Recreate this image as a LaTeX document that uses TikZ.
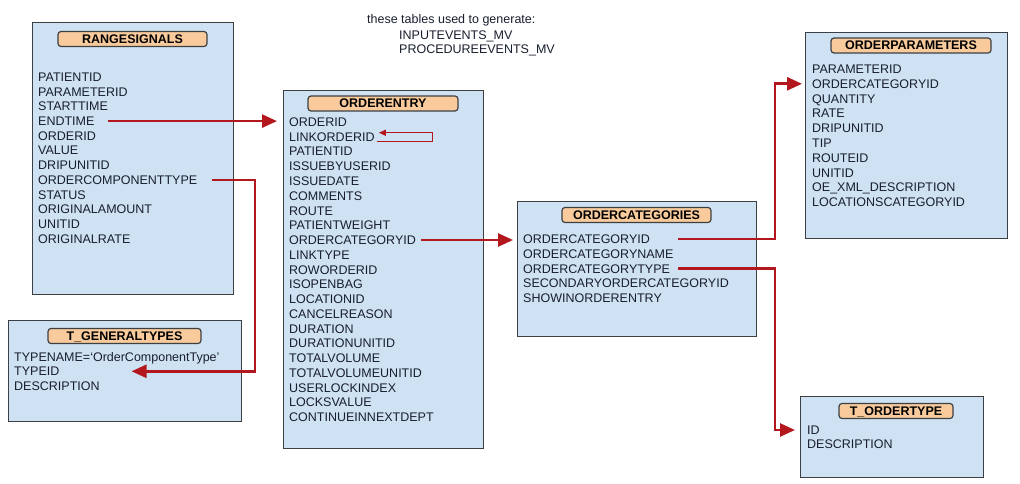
\documentclass[tikz,border=0pt]{standalone}
\usepackage{fontspec}
\setmainfont{Liberation Sans}
\usetikzlibrary{arrows.meta,calc}
\definecolor{boxfill}{RGB}{207,226,243}
\definecolor{boxline}{RGB}{60,64,67}
\definecolor{pillfill}{RGB}{249,203,156}
\definecolor{relred}{RGB}{178,24,30}
\definecolor{txt}{RGB}{24,30,45}
\tikzset{
  tbl/.style={draw=boxline,line width=1.4pt,fill=boxfill,anchor=north west,inner sep=0pt},
  pill/.style={draw=boxline,line width=1.2pt,fill=pillfill,rounded corners=3pt,inner sep=0pt,
    minimum height=15pt,text height=9pt,text depth=0pt,font=\fontsize{12.5}{14}\selectfont\bfseries,text=black},
  field/.style={anchor=base west,inner sep=0pt,text height=9pt,text depth=0pt,
    font=\fontsize{12.5}{14}\selectfont,text=txt},
  note/.style={anchor=base west,inner sep=0pt,font=\fontsize{12.5}{14}\selectfont,text=txt},
  rel/.style={draw=relred,line width=2.6pt,-{Triangle[length=15pt,width=13pt]}},
  selfrel/.style={draw=relred,line width=1.2pt,-{Triangle[length=7pt,width=6pt]}}
}
\begin{document}
\begin{tikzpicture}[x=1pt,y=-1pt]
\useasboundingbox[fill=white] (0,0) rectangle (1020,484);

% top note
\node[note] (n1) at (367,24) {these tables used to generate:};
\node[note] (n2) at (399,39.3) {INPUTEVENTS\_MV};
\node[note] (n3) at (399,54) {PROCEDUREEVENTS\_MV};

% tables
\node[tbl,minimum width=201pt,minimum height=272pt] (rs) at (32,22) {};
\node[tbl,minimum width=233pt,minimum height=101pt] (gt) at (8,320) {};
\node[tbl,minimum width=200pt,minimum height=358pt] (oe) at (283,90) {};
\node[tbl,minimum width=239pt,minimum height=135pt] (oc) at (517,201) {};
\node[tbl,minimum width=202pt,minimum height=206pt] (op) at (805,32) {};
\node[tbl,minimum width=183pt,minimum height=81pt] (ot) at (800,396) {};

% headers
\node[pill,minimum width=149pt] (rs-h) at (132.5,39) {RANGESIGNALS};
\node[pill,minimum width=153pt] (gt-h) at (124.5,336) {T\_GENERALTYPES};
\node[pill,minimum width=150pt] (oe-h) at (383,103.5) {ORDERENTRY};
\node[pill,minimum width=149pt] (oc-h) at (636.5,215) {ORDERCATEGORIES};
\node[pill,minimum width=160pt] (op-h) at (911,45.5) {ORDERPARAMETERS};
\node[pill,minimum width=114pt] (ot-h) at (896,411) {T\_ORDERTYPE};

% fields
\foreach \t [count=\i from 0] in {PATIENTID,PARAMETERID,STARTTIME,ENDTIME,ORDERID,VALUE,DRIPUNITID,ORDERCOMPONENTTYPE,STATUS,ORIGINALAMOUNT,UNITID,ORIGINALRATE}
  \node[field] (rs-\i) at (38,{81.5+14.7*\i}) {\t};
\foreach \t [count=\i from 0] in {ORDERID,LINKORDERID,PATIENTID,ISSUEBYUSERID,ISSUEDATE,COMMENTS,ROUTE,PATIENTWEIGHT,ORDERCATEGORYID,LINKTYPE,ROWORDERID,ISOPENBAG,LOCATIONID,CANCELREASON,DURATION,DURATIONUNITID,TOTALVOLUME,TOTALVOLUMEUNITID,USERLOCKINDEX,LOCKSVALUE,CONTINUEINNEXTDEPT}
  \node[field] (oe-\i) at (289,{126.5+14.75*\i}) {\t};
\foreach \t [count=\i from 0] in {ORDERCATEGORYID,ORDERCATEGORYNAME,ORDERCATEGORYTYPE,SECONDARYORDERCATEGORYID,SHOWINORDERENTRY}
  \node[field] (oc-\i) at (523,{243.5+14.75*\i}) {\t};
\foreach \t [count=\i from 0] in {PARAMETERID,ORDERCATEGORYID,QUANTITY,RATE,DRIPUNITID,TIP,ROUTEID,UNITID,OE\_XML\_DESCRIPTION,LOCATIONSCATEGORYID}
  \node[field] (op-\i) at (812,{73.5+14.8*\i}) {\t};
\foreach \t [count=\i from 0] in {TYPENAME=`OrderComponentType',TYPEID,DESCRIPTION}
  \node[field] (gt-\i) at (14,{361.5+14.3*\i}) {\t};
\foreach \t [count=\i from 0] in {ID,DESCRIPTION}
  \node[field] (ot-\i) at (807,{434.5+14*\i}) {\t};

% connectors
\draw[rel] ($(rs-3.east)+(13,0)$) -- ($(rs-3 -| oe.west)+(-6,0)$);
\coordinate (a1) at ($(rs-7.east)+(15,0)$);
\coordinate (v1) at (255,0);
\draw[rel] (a1) -- (a1 -| v1) |- ($(gt-1.east)+(72,0)$);
\draw[selfrel] ($(oe-1.east)+(2,5)$) -- ++(56,0) -- ++(0,-9) -- ($(oe-1.east)+(4,-4)$);
\draw[rel] ($(oe-8.east)+(5,0)$) -- ($(oe-8 -| oc.west)+(-4,0)$);
\coordinate (b1) at ($(oc-0.west)+(155,0)$);
\coordinate (v2) at (775,0);
\draw[rel] (b1) -- (b1 -| v2) |- ($(op-1 -| op.west)+(-3,0)$);
\coordinate (c1) at ($(oc-2.west)+(155,0)$);
\draw[rel] (c1) -- (c1 -| v2) |- ($(ot-0 -| ot.west)+(-5,0)$);
\end{tikzpicture}
\end{document}
